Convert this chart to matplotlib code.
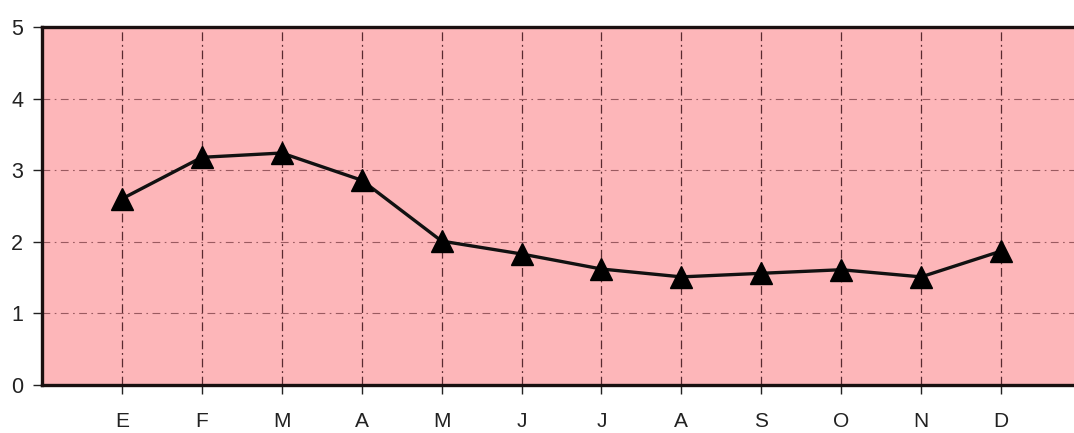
import matplotlib
matplotlib.use("Agg")
import matplotlib.pyplot as plt

months = ["E", "F", "M", "A", "M", "J", "J", "A", "S", "O", "N", "D"]
values = [2.60, 3.18, 3.24, 2.86, 2.01, 1.83, 1.62, 1.51, 1.56, 1.61, 1.51, 1.87]
yticks = [0, 1, 2, 3, 4, 5]

plt.rcParams['font.family'] = ['Liberation Sans', 'DejaVu Sans']

fig = plt.figure(figsize=(10.74, 4.33), dpi=100)
ax = fig.add_axes([42/1074, 48/433, 1039/1074, 358/433])
ax.set_facecolor('#fdb6b9')

x = list(range(len(months)))
ax.plot(x, values, color='#111111', lw=2.4, marker='^', markersize=16,
        markerfacecolor='black', markeredgecolor='black', zorder=3)

ax.set_xlim(-1, 12)
ax.set_ylim(0, 5)
ax.set_xticks(x)
ax.set_xticklabels(months)
ax.set_yticks(yticks)

# vertical grid darker, horizontal grid fainter (as in the scan)
ax.xaxis.grid(True, color='#5a2a30', lw=0.9, linestyle=(0, (7, 3, 1.5, 3)))
ax.yaxis.grid(True, color='#9a5a60', lw=0.8, linestyle=(0, (7, 4, 1.5, 4)))
ax.set_axisbelow(True)

for side in ['top', 'left', 'bottom']:
    ax.spines[side].set_linewidth(2.4)
    ax.spines[side].set_color('#1a1010')
ax.spines['right'].set_visible(False)

ax.tick_params(axis='x', direction='out', length=6.5, width=1, pad=13,
               labelsize=15, colors='#222222')
ax.tick_params(axis='y', direction='out', length=6.5, width=1, pad=7,
               labelsize=15.5, colors='#222222')

fig.savefig('out.png', dpi=100)
